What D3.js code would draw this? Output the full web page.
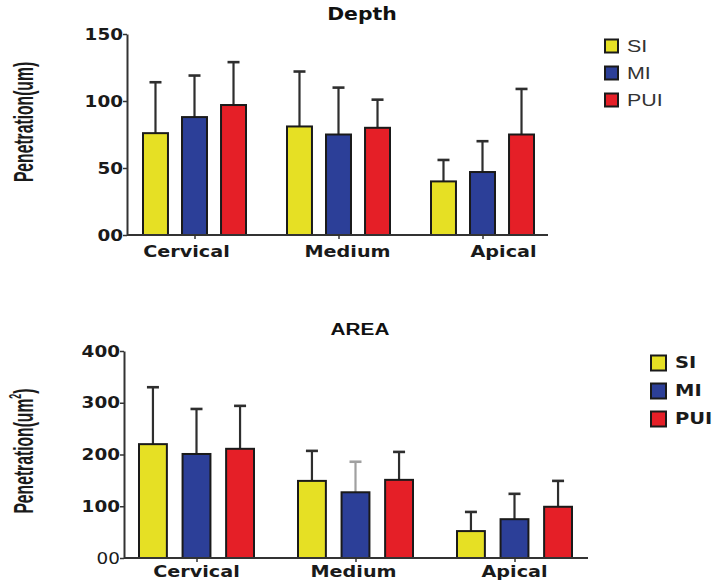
<!DOCTYPE html>
<html><head><meta charset="utf-8">
<script src="https://cdn.jsdelivr.net/npm/d3@7"></script>
<style>
body{margin:0;background:#fff;}
</style></head>
<body><svg id="c" width="718" height="582"></svg>
<script>
const categories = ["Cervical","Medium","Apical"];
const seriesNames = ["SI","MI","PUI"];
const seriesColors = ["#e6e024","#2c3f98","#e51f27"];

// Depth chart (um)
const depthSI   = [76, 81, 40];
const depthMI   = [88, 75, 47];
const depthPUI  = [97, 80, 75];
const depthSIerr  = [38, 41, 16];
const depthMIerr  = [31, 35, 23];
const depthPUIerr = [32, 21, 34];
const depthTicks = [0, 50, 100, 150];
const depthTickLabels = ["00","50","100","150"];

// Area chart (um^2)
const areaSI   = [220, 149, 52];
const areaMI   = [201, 127, 75];
const areaPUI  = [211, 151, 99];
const areaSIerr  = [110, 58, 37];
const areaMIerr  = [87, 59, 49];
const areaPUIerr = [83, 54, 50];
const areaTicks = [0, 100, 200, 300, 400];
const areaTickLabels = ["00","100","200","300","400"];

const svg = d3.select("#c");
const WIDE = "'DejaVu Sans',Verdana,sans-serif";
const ARIAL = "'Liberation Sans',Arial,sans-serif";

// text with horizontal stretch (the reference figure is stretched horizontally)
function stretchedText(g, x, y, str, o){
  return g.append("text")
    .attr("transform",`translate(${x},${y}) scale(${o.sx||1},1)`)
    .attr("text-anchor",o.anchor||"start").attr("dy",o.dy||null)
    .attr("font-size",o.size).attr("font-weight",o.weight||"bold")
    .attr("font-family",o.family).attr("fill",o.fill||"#1a1a1a").text(str);
}

function drawChart(cfg){
  const g = svg.append("g");
  const y = d3.scaleLinear().domain([0, cfg.max]).range([cfg.y0, cfg.y1]);
  const xc = d3.scalePoint().domain(categories).range([cfg.c0, cfg.c1]);
  const xs = d3.scaleBand().domain(seriesNames).range([-cfg.gw/2, cfg.gw/2]).paddingInner(0.36);
  const values = cfg.vals, errs = cfg.errs;
  const data = [];
  categories.forEach((c,ci)=>seriesNames.forEach((s,si)=>data.push({c,s,si,v:values[si][ci],e:errs[si][ci]})));

  // error bars (upper only)
  data.forEach(d=>{
    const cx = xc(d.c) + xs(d.s) + xs.bandwidth()/2;
    const col = (d.c==="Medium" && d.s==="MI" && cfg.lightErr) ? "#a0a0a0" : "#2e2e2e";
    g.append("line").attr("x1",cx).attr("x2",cx).attr("y1",y(d.v)).attr("y2",y(d.v+d.e))
      .attr("stroke",col).attr("stroke-width",2.2);
    g.append("line").attr("x1",cx-6).attr("x2",cx+6).attr("y1",y(d.v+d.e)).attr("y2",y(d.v+d.e))
      .attr("stroke",col).attr("stroke-width",2.6);
  });
  // bars
  g.selectAll("rect.bar").data(data).enter().append("rect")
    .attr("x",d=>xc(d.c)+xs(d.s)).attr("width",xs.bandwidth())
    .attr("y",d=>y(d.v)).attr("height",d=>y(0)-y(d.v))
    .attr("fill",d=>seriesColors[d.si]).attr("stroke","#1a1a1a").attr("stroke-width",2);

  // y axis
  const ya = d3.axisLeft(y).tickValues(cfg.ticks).tickFormat((d,i)=>cfg.tickLabels[i]).tickSize(4).tickSizeOuter(0);
  const yg = g.append("g").attr("transform",`translate(${cfg.ax},0)`).call(ya);
  yg.attr("font-family",null).attr("font-size",null);
  yg.select(".domain").attr("stroke","#333").attr("stroke-width",2);
  yg.selectAll(".tick line").attr("stroke","#333").attr("stroke-width",1.5);
  yg.selectAll(".tick text").attr("x",0).attr("transform","translate(-4,0) scale(1.15,1)")
    .attr("font-size",16).attr("font-weight","bold").attr("fill","#1a1a1a").attr("font-family",WIDE);
  if(cfg.zeroNormal) yg.selectAll(".tick text").filter(d=>d===0).attr("font-weight","normal");

  // x axis
  const xa = d3.axisBottom(xc).tickSize(4).tickSizeOuter(0).tickFormat("");
  const xg = g.append("g").attr("transform",`translate(0,${cfg.y0})`).call(xa);
  xg.select(".domain").attr("d",`M${cfg.ax},0H${cfg.axEnd}`).attr("stroke","#333").attr("stroke-width",2);
  xg.selectAll(".tick line").attr("stroke","#333").attr("stroke-width",1.5);
  categories.forEach((c,i)=>{
    stretchedText(g, xc(c)+cfg.labOff[i], cfg.labY, c, {size:16, sx:1.2, family:WIDE, anchor:"middle"});
  });

  // title
  stretchedText(g, cfg.titleX, cfg.titleY, cfg.title,
    {size:cfg.titleFont, sx:cfg.titleSx, family:cfg.titleFamily, anchor:"middle", fill:"#111"});

  // y label (tall, condensed)
  const yl = g.append("text").attr("transform",`translate(${cfg.ylX},${cfg.ylY}) rotate(-90) scale(0.56,1)`)
    .attr("text-anchor","middle").attr("font-size",28).attr("font-weight","bold")
    .attr("font-family",ARIAL).attr("fill","#1a1a1a");
  yl.append("tspan").text(cfg.ylab);
  if(cfg.ylabSup){
    yl.append("tspan").attr("font-size",16).attr("dy",-12).text(cfg.ylabSup);
    yl.append("tspan").attr("dy",12).text(")");
  }

  // legend
  seriesNames.forEach((s,i)=>{
    const ly = cfg.legY + i*cfg.legStep;
    g.append("rect").attr("x",cfg.legX).attr("y",ly-cfg.legSz/2).attr("width",cfg.legSz).attr("height",cfg.legSz)
      .attr("fill",seriesColors[i]).attr("stroke","#1a1a1a").attr("stroke-width",2);
    stretchedText(g, cfg.legX+cfg.legSz+9, ly, s,
      {size:cfg.legFont, sx:1.3, weight:cfg.legWeight, family:cfg.legFamily, fill:cfg.legColor, dy:"0.36em"});
  });
}

drawChart({
  max:150, y0:235, y1:34, c0:194.5, c1:482.5, gw:103, ax:127, axEnd:548,
  vals:[depthSI,depthMI,depthPUI], errs:[depthSIerr,depthMIerr,depthPUIerr],
  ticks:depthTicks, tickLabels:depthTickLabels, zeroNormal:false,
  labY:257, labOff:[-8,9,21],
  title:"Depth", titleX:362, titleY:20, titleFont:17, titleSx:1.2, titleFamily:WIDE,
  ylab:"Penetration(um)", ylabSup:null, ylX:33, ylY:122,
  legX:605, legY:46, legStep:27, legSz:13, legFont:16.5, legWeight:"normal",
  legFamily:ARIAL, legColor:"#333"
});

drawChart({
  max:400, y0:558, y1:351, c0:196.5, c1:514.5, gw:115, ax:124, axEnd:588,
  vals:[areaSI,areaMI,areaPUI], errs:[areaSIerr,areaMIerr,areaPUIerr],
  ticks:areaTicks, tickLabels:areaTickLabels, zeroNormal:true, lightErr:true,
  labY:577, labOff:[0,-2,0],
  title:"AREA", titleX:360, titleY:335, titleFont:17, titleSx:1.22, titleFamily:ARIAL,
  ylab:"Penetration(um", ylabSup:"2", ylX:33, ylY:451,
  legX:651, legY:363, legStep:28, legSz:15, legFont:15, legWeight:"bold",
  legFamily:WIDE, legColor:"#1a1a1a"
});
</script></body></html>
